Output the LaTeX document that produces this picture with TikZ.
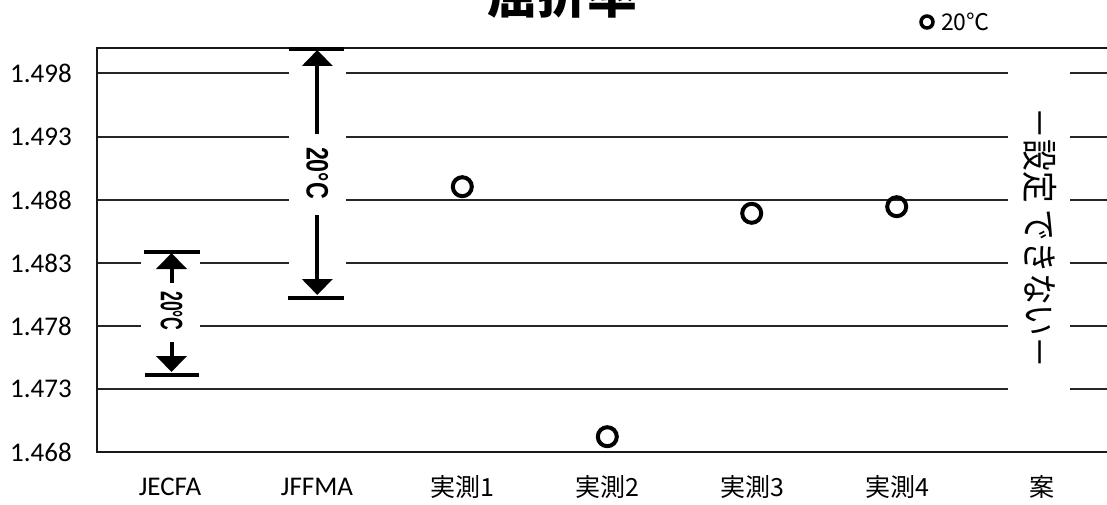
\documentclass[tikz,border=0pt]{standalone}
\usepackage{fontspec}
\setmainfont{Carlito}
\newfontfamily\jp{Noto Sans CJK JP}
\newfontfamily\lib{Liberation Sans}
\usetikzlibrary{arrows.meta}
\tikzset{
  gridln/.style={line width=1.4pt, black!85},
  frameln/.style={line width=2pt, black!90},
  ylab/.style={anchor=east, inner sep=0pt, font=\fontsize{27}{30}\selectfont},
  xlab/.style={inner sep=0pt, font=\fontsize{27}{30}\selectfont},
  xlabjp/.style={inner sep=0pt, font=\jp\fontsize{25}{28}\selectfont},
  datapt/.style={circle, draw, line width=4pt, minimum size=19pt, inner sep=0pt},
  capbar/.style={line width=4pt},
  rangearrow/.style={line width=4pt, -{Triangle[width=30pt,length=16pt]}},
  rotlab/.style={rotate=-90, inner sep=0pt, font=\lib\bfseries\fontsize{31}{34}\selectfont},
}
\begin{document}
\begin{tikzpicture}[x=1pt,y=-1pt]
\useasboundingbox (0,0) rectangle (1107,505);
% title
\node[anchor=base, inner sep=0pt, font=\jp\bfseries\fontsize{50}{56}\selectfont] (title) at (562,13.5) {屈折率};
% legend
\node[circle, draw, line width=3.5pt, minimum size=12pt, inner sep=0pt] (legpt) at (927,22) {};
\node[anchor=west, inner sep=0pt, font=\jp\fontsize{23}{26}\selectfont] (legtxt) at (941,22) {20℃};
% grid lines
\draw[gridln] (97,73) -- (289,73) (346,73) -- (1008,73) (1070,73) -- (1107,73);
\draw[gridln] (97,137) -- (289,137) (346,137) -- (1008,137) (1070,137) -- (1107,137);
\draw[gridln] (97,200) -- (289,200) (346,200) -- (1008,200) (1070,200) -- (1107,200);
\draw[gridln] (97,263) -- (141,263) (200,263) -- (289,263) (346,263) -- (1008,263) (1070,263) -- (1107,263);
\draw[gridln] (97,326) -- (141,326) (200,326) -- (1008,326) (1070,326) -- (1107,326);
\draw[gridln] (97,389) -- (1008,389) (1070,389) -- (1107,389);
% frame
\draw[frameln] (1107,48) -- (97,48) -- (97,452) -- (1107,452);
% y labels
\node[ylab] (y1) at (72,452) {1.468};
\node[ylab] (y2) at (72,389) {1.473};
\node[ylab] (y3) at (72,326) {1.478};
\node[ylab] (y4) at (72,263) {1.483};
\node[ylab] (y5) at (72,200) {1.488};
\node[ylab] (y6) at (72,137) {1.493};
\node[ylab] (y7) at (72,73) {1.498};
% x labels
\node[xlab] (c1) at (170,487) {JECFA};
\node[xlab] (c2) at (317,487) {JFFMA};
\node[xlabjp] (c3) at (462,487) {実測1};
\node[xlabjp] (c4) at (607,487) {実測2};
\node[xlabjp] (c5) at (752,487) {実測3};
\node[xlabjp] (c6) at (897,487) {実測4};
\node[xlabjp] (c7) at (1042,487) {案};
% data points
\node[datapt] (p1) at (462.3,186.7) {};
\node[datapt] (p2) at (607.3,436.7) {};
\node[datapt] (p3) at (751.7,213.3) {};
\node[datapt] (p4) at (896.7,206.7) {};
% JFFMA range
\coordinate (ffT) at (317.3,49);
\coordinate (ffB) at (317.3,298);
\coordinate (ffA) at (317.3,134);
\coordinate (ffC) at (317.3,215);
\draw[capbar] ([xshift=-28pt]ffT) -- ([xshift=27pt]ffT);
\draw[capbar] ([xshift=-29pt]ffB) -- ([xshift=27pt]ffB);
\draw[rangearrow] (ffA) -- ([yshift=-1pt]ffT);
\draw[rangearrow] (ffC) -- ([yshift=3pt]ffB);
\node[rotlab] (fflab) at (317.3,173) {\scalebox{0.75}[1]{20°C}};
% JECFA range
\coordinate (jeT) at (171.5,252);
\coordinate (jeB) at (171.5,375);
\coordinate (jeA) at (171.5,283);
\coordinate (jeC) at (171.5,342);
\draw[capbar] ([xshift=-28pt]jeT) -- ([xshift=28pt]jeT);
\draw[capbar] ([xshift=-27pt]jeB) -- ([xshift=27pt]jeB);
\draw[rangearrow] (jeA) -- ([yshift=-1pt]jeT);
\draw[rangearrow] (jeC) -- ([yshift=3pt]jeB);
\node[rotlab] (jelab) at (171.5,311) {\scalebox{0.57}[1]{20°C}};
% proposal: not settable
\node[rotate=-90, inner sep=0pt, font=\jp\fontsize{36}{38}\selectfont] (notset) at (1040,238) {\scalebox{0.88}[1]{－設定 できない－}};
\end{tikzpicture}
\end{document}
